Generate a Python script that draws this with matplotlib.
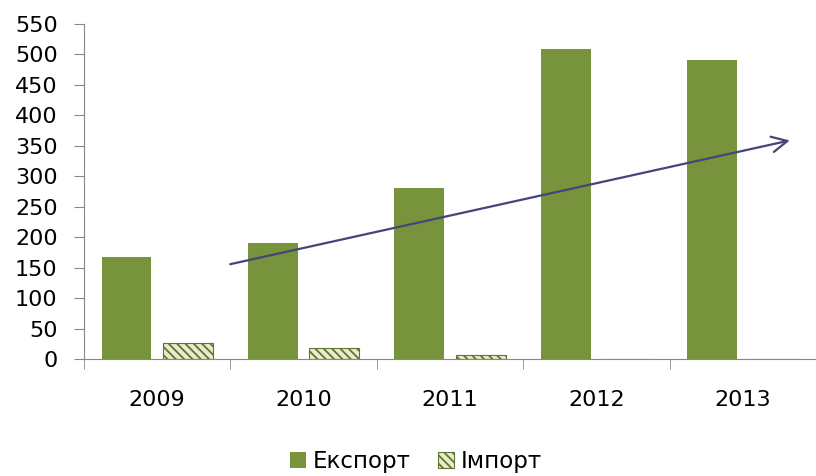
import matplotlib
matplotlib.use("Agg")
import matplotlib.pyplot as plt
import numpy as np

years = ["2009", "2010", "2011", "2012", "2013"]
export = [168, 191, 281, 509, 491]
imports = [26, 18, 7, 1, 1]
trend_start = (0.48, 155)
trend_end = (4.34, 360)

plt.rcParams["hatch.linewidth"] = 1.3
fig = plt.figure(figsize=(8.16, 4.76), dpi=100)
ax = fig.add_axes([0.103, 0.2452, 0.897, 0.7044])

x = np.arange(len(years))
w = 0.34
ax.bar(x - 0.21, export, w, color="#77933c", label="Експорт")
ax.bar(x + 0.21, imports, w, color="#e6eccc", edgecolor="#5f7530", hatch="\\\\\\\\",
       linewidth=0.8, label="Імпорт")

ax.annotate("", xy=trend_end, xytext=trend_start,
            arrowprops=dict(arrowstyle="->", color="#45457a", lw=1.6,
                            mutation_scale=28))

ax.set_xlim(-0.5, 4.5)
ax.set_ylim(0, 550)
ax.set_yticks(range(0, 551, 50))
ax.set_xticks(x)
ax.set_xticklabels(years)
ax.set_xticks(np.arange(-0.5, 4.6, 1), minor=True)
ax.tick_params(axis="x", which="major", length=0, pad=22, labelsize=16)
ax.tick_params(axis="x", which="minor", length=7, color="#888888", direction="out")
ax.tick_params(axis="y", length=7, color="#888888", labelsize=16, pad=12)
for s in ["top", "right"]:
    ax.spines[s].set_visible(False)
for s in ["left", "bottom"]:
    ax.spines[s].set_color("#888888")

fig.legend(loc="center", bbox_to_anchor=(0.51, 0.03), ncol=2, frameon=False,
           fontsize=16.5, handlelength=0.7, handleheight=0.7, handletextpad=0.3,
           columnspacing=1.2, borderpad=0)

fig.savefig("out.png", dpi=100)
